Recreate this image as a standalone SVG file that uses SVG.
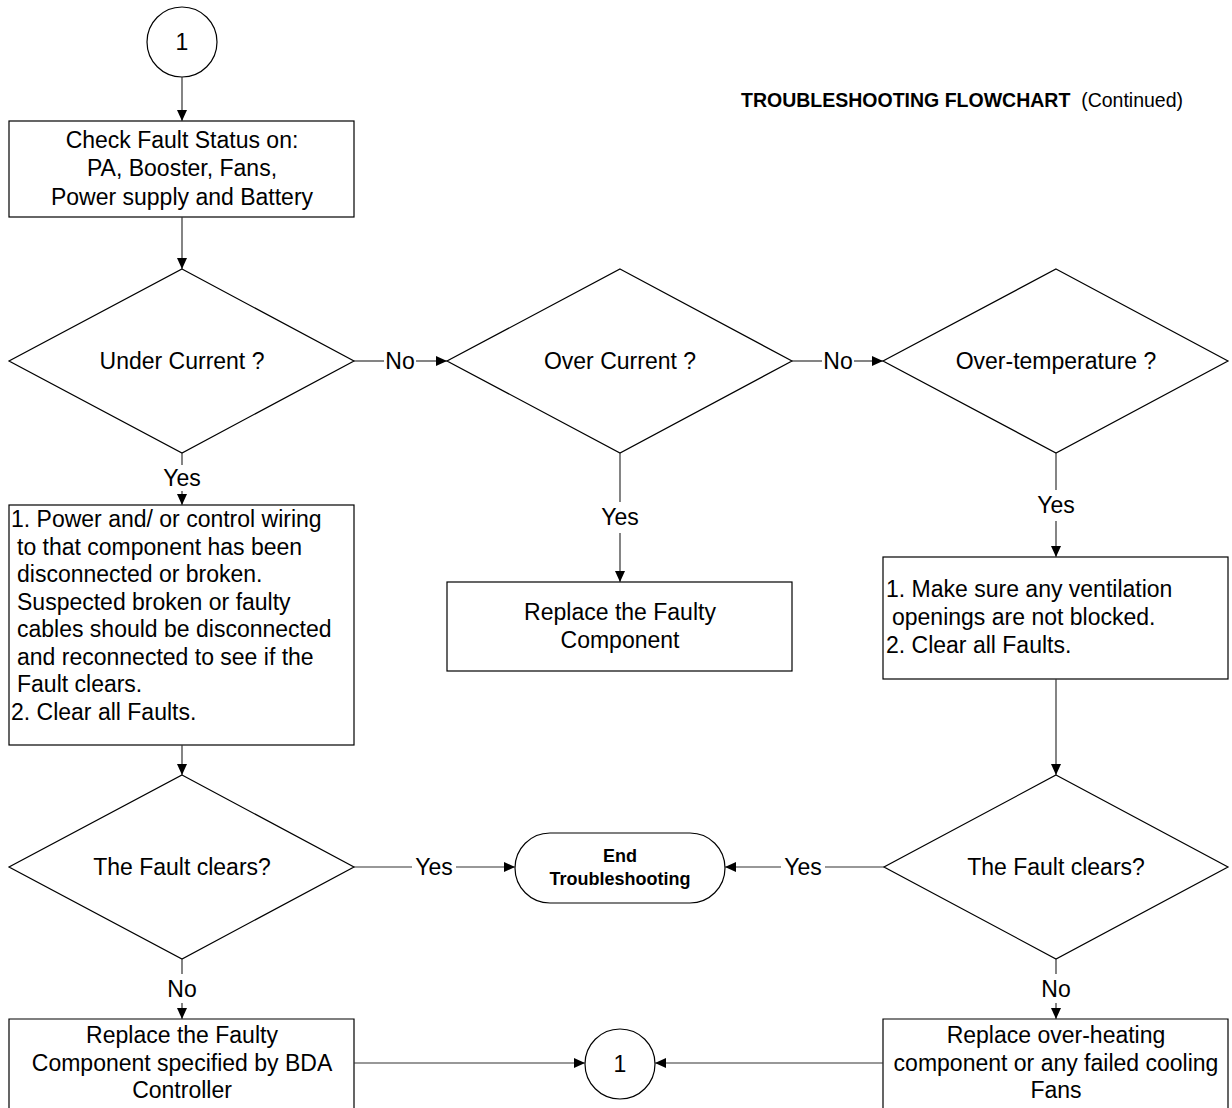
<svg xmlns="http://www.w3.org/2000/svg" width="1232" height="1108" viewBox="0 0 1232 1108">
<defs>
<style>
.shape{fill:#fff;stroke:#000;stroke-width:1.2}
.conn{fill:none;stroke:#333;stroke-width:1.2}
text{font-family:"Liberation Sans",Arial,sans-serif;font-size:23px;fill:#000}
.c{text-anchor:middle}
.b{font-weight:bold}
.t{font-size:18px;font-weight:bold;text-anchor:middle}
.lbl{text-anchor:middle}
</style>
<marker id="ah" markerUnits="userSpaceOnUse" markerWidth="12" markerHeight="10" refX="11" refY="5" orient="auto">
<path d="M0,0 L11,5 L0,10 z" fill="#000"/>
</marker>
</defs>
<rect width="1232" height="1108" fill="#fff"/>

<g id="title">
<text x="741" y="107" style="font-size:19.5px"><tspan class="b">TROUBLESHOOTING FLOWCHART</tspan><tspan xml:space="preserve">  (Continued)</tspan></text>
</g>

<g id="connector-top">
<circle class="shape" cx="182" cy="42" r="35"/>
<text class="c" x="182" y="50">1</text>
</g>

<g id="check-status">
<rect class="shape" x="9" y="121" width="345" height="96"/>
<text class="c" x="182" y="148">Check Fault Status on:</text>
<text class="c" x="182" y="176">PA, Booster, Fans,</text>
<text class="c" x="182" y="205">Power supply and Battery</text>
</g>

<g id="under-current">
<polygon class="shape" points="182,269 354,361 182,453 9,361"/>
<text class="c" x="182" y="369">Under Current ?</text>
</g>

<g id="over-current">
<polygon class="shape" points="620,269 792,361 620,453 447,361"/>
<text class="c" x="620" y="369">Over Current ?</text>
</g>

<g id="over-temperature">
<polygon class="shape" points="1056,269 1228,361 1056,453 883,361"/>
<text class="c" x="1056" y="369">Over-temperature ?</text>
</g>

<g id="wiring-box">
<rect class="shape" x="9" y="505" width="345" height="240"/>
<text x="11" y="527">1. Power and/ or control wiring</text>
<text x="17" y="555">to that component has been</text>
<text x="17" y="582">disconnected or broken.</text>
<text x="17" y="610">Suspected broken or faulty</text>
<text x="17" y="637">cables should be disconnected</text>
<text x="17" y="665">and reconnected to see if the</text>
<text x="17" y="692">Fault clears.</text>
<text x="11" y="720">2. Clear all Faults.</text>
</g>

<g id="replace-faulty">
<rect class="shape" x="447" y="582" width="345" height="89"/>
<text class="c" x="620" y="620">Replace the Faulty</text>
<text class="c" x="620" y="648">Component</text>
</g>

<g id="ventilation-box">
<rect class="shape" x="883" y="557" width="345" height="122"/>
<text x="886" y="597">1. Make sure any ventilation</text>
<text x="892" y="625">openings are not blocked.</text>
<text x="886" y="653">2. Clear all Faults.</text>
</g>

<g id="fault-clears-left">
<polygon class="shape" points="182,775 354,867 182,959 9,867"/>
<text class="c" x="182" y="875">The Fault clears?</text>
</g>

<g id="end">
<rect class="shape" x="515" y="833" width="210" height="70" rx="35" ry="35"/>
<text class="t" x="620" y="862">End</text>
<text class="t" x="620" y="885">Troubleshooting</text>
</g>

<g id="fault-clears-right">
<polygon class="shape" points="1056,775 1228,867 1056,959 884,867"/>
<text class="c" x="1056" y="875">The Fault clears?</text>
</g>

<g id="replace-bda">
<path class="shape" d="M9,1112 L9,1019 L354,1019 L354,1112"/>
<text class="c" x="182" y="1043">Replace the Faulty</text>
<text class="c" x="182" y="1071">Component specified by BDA</text>
<text class="c" x="182" y="1098">Controller</text>
</g>

<g id="connector-bottom">
<circle class="shape" cx="620" cy="1064" r="35"/>
<text class="c" x="620" y="1072">1</text>
</g>

<g id="replace-cooling">
<path class="shape" d="M883,1112 L883,1019 L1228,1019 L1228,1112"/>
<text class="c" x="1056" y="1043">Replace over-heating</text>
<text class="c" x="1056" y="1071">component or any failed cooling</text>
<text class="c" x="1056" y="1098">Fans</text>
</g>

<g id="connectors">
<line class="conn" x1="182" y1="77" x2="182" y2="121" marker-end="url(#ah)"/>
<line class="conn" x1="182" y1="217" x2="182" y2="269" marker-end="url(#ah)"/>
<!-- under current: No -->
<line class="conn" x1="354" y1="361" x2="384" y2="361"/>
<text class="lbl" x="400" y="369">No</text>
<line class="conn" x1="416" y1="361" x2="447" y2="361" marker-end="url(#ah)"/>
<!-- over current: No -->
<line class="conn" x1="792" y1="361" x2="822" y2="361"/>
<text class="lbl" x="838" y="369">No</text>
<line class="conn" x1="854" y1="361" x2="883" y2="361" marker-end="url(#ah)"/>
<!-- under current: Yes -->
<line class="conn" x1="182" y1="453" x2="182" y2="465"/>
<text class="lbl" x="182" y="486">Yes</text>
<line class="conn" x1="182" y1="491" x2="182" y2="505" marker-end="url(#ah)"/>
<!-- over current: Yes -->
<line class="conn" x1="620" y1="453" x2="620" y2="502"/>
<text class="lbl" x="620" y="525">Yes</text>
<line class="conn" x1="620" y1="533" x2="620" y2="582" marker-end="url(#ah)"/>
<!-- over temperature: Yes -->
<line class="conn" x1="1056" y1="453" x2="1056" y2="490"/>
<text class="lbl" x="1056" y="513">Yes</text>
<line class="conn" x1="1056" y1="521" x2="1056" y2="557" marker-end="url(#ah)"/>
<!-- boxes to fault clears -->
<line class="conn" x1="182" y1="745" x2="182" y2="775" marker-end="url(#ah)"/>
<line class="conn" x1="1056" y1="679" x2="1056" y2="775" marker-end="url(#ah)"/>
<!-- left fault clears: Yes -->
<line class="conn" x1="354" y1="867" x2="412" y2="867"/>
<text class="lbl" x="434" y="875">Yes</text>
<line class="conn" x1="456" y1="867" x2="515" y2="867" marker-end="url(#ah)"/>
<!-- right fault clears: Yes -->
<line class="conn" x1="884" y1="867" x2="825" y2="867"/>
<text class="lbl" x="803" y="875">Yes</text>
<line class="conn" x1="781" y1="867" x2="725" y2="867" marker-end="url(#ah)"/>
<!-- left fault clears: No -->
<line class="conn" x1="182" y1="959" x2="182" y2="974"/>
<text class="lbl" x="182" y="997">No</text>
<line class="conn" x1="182" y1="1003" x2="182" y2="1019" marker-end="url(#ah)"/>
<!-- right fault clears: No -->
<line class="conn" x1="1056" y1="959" x2="1056" y2="974"/>
<text class="lbl" x="1056" y="997">No</text>
<line class="conn" x1="1056" y1="1003" x2="1056" y2="1019" marker-end="url(#ah)"/>
<!-- to bottom connector -->
<line class="conn" x1="354" y1="1063" x2="585" y2="1063" marker-end="url(#ah)"/>
<line class="conn" x1="883" y1="1063" x2="655" y2="1063" marker-end="url(#ah)"/>
</g>
</svg>
